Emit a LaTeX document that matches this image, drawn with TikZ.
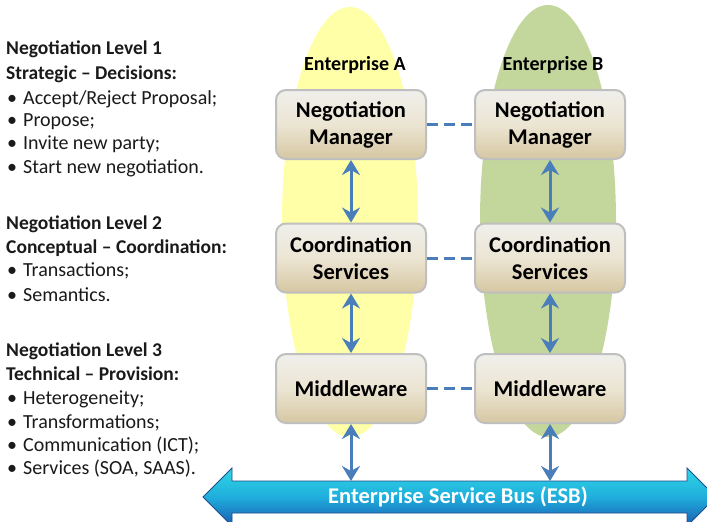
\documentclass[tikz,border=0pt]{standalone}
\usepackage{fontspec}
\setmainfont{Carlito}
\usetikzlibrary{arrows.meta,calc}
\definecolor{ylw}{HTML}{FFFFA8}
\definecolor{grn}{HTML}{C3D69B}
\definecolor{boxtop}{HTML}{EFEFEB}
\definecolor{boxmid}{HTML}{ECE5D3}
\definecolor{boxbot}{HTML}{D6C7A2}
\definecolor{boxline}{HTML}{BFBFBF}
\definecolor{conn}{HTML}{4A7EBB}
\definecolor{esbtop}{HTML}{2FD6E6}
\definecolor{esbmid}{HTML}{1FAEDC}
\definecolor{esbbot}{HTML}{1A5CB2}
\definecolor{esbline}{HTML}{1F4E8C}
\definecolor{txt}{HTML}{1A1A1A}
\tikzset{
  compbox/.style={draw=boxline, line width=2pt, rounded corners=10pt,
    top color=boxtop, bottom color=boxbot, middle color=boxmid,
    minimum width=150pt, minimum height=69pt, align=center,
    font=\fontsize{22.5}{27}\selectfont\bfseries, text=black, inner sep=0pt},
  dashlink/.style={conn, line width=3pt, dash pattern=on 11pt off 6pt},
  varrow/.style={conn, line width=3pt, {Stealth[length=15pt,width=18pt,inset=5pt]}-{Stealth[length=15pt,width=18pt,inset=5pt]}},
  head/.style={anchor=base west, inner sep=0pt, text=txt, font=\fontsize{19.5}{22}\selectfont\bfseries},
  item/.style={anchor=base west, inner sep=0pt, text=txt, font=\fontsize{20}{22}\selectfont},
  entlabel/.style={inner sep=0pt, text=black, font=\fontsize{20}{22}\selectfont\bfseries},
}
\newcommand\bul[1]{\makebox[16pt][l]{\textbullet}#1}
\begin{document}
\begin{tikzpicture}[x=1pt,y=-1pt]
\useasboundingbox (0,0) rectangle (707,522);
\clip (0,0) rectangle (707,522);
\fill[white] (0,0) rectangle (707,522);
% enterprise ellipses
\fill[ylw] (350,222) ellipse [x radius=68, y radius=215];
\fill[grn] (548,221) ellipse [x radius=68, y radius=216];
\node[entlabel] (entA) at (355,65) {Enterprise A};
\node[entlabel] (entB) at (553,65) {Enterprise B};
% boxes
\node[compbox] (nmA) at (351,124.5) {Negotiation\\Manager};
\node[compbox] (nmB) at (550,124.5) {Negotiation\\Manager};
\node[compbox] (coA) at (351,258) {Coordination\\Services};
\node[compbox] (coB) at (550,258) {Coordination\\Services};
\node[compbox] (mwA) at (351,388.5) {Middleware};
\node[compbox] (mwB) at (550,388.5) {Middleware};
% dashed links
\draw[dashlink] (nmA) -- (nmB);
\draw[dashlink] (coA) -- (coB);
\draw[dashlink] (mwA) -- (mwB);
% ESB arrow
\draw[esbline, line width=0.8pt, top color=esbtop, bottom color=esbbot, middle color=esbmid]
  (203,497) -- (232,468) -- (232,481) -- (687,481) -- (687,468) -- (716,497)
  -- (687,526) -- (687,513) -- (232,513) -- (232,526) -- cycle;
\node[inner sep=0pt, text=white, font=\fontsize{22.5}{26}\selectfont\bfseries] (esb) at (458,497) {Enterprise Service Bus (ESB)};
\coordinate (busA) at (351,481);
\coordinate (busB) at (550,481);
% vertical arrows
\draw[varrow] (nmA) -- (coA);
\draw[varrow] (nmB) -- (coB);
\draw[varrow] (coA) -- (mwA);
\draw[varrow] (coB) -- (mwB);
\draw[varrow] (mwA.south) -- (busA);
\draw[varrow] (mwB.south) -- (busB);
% left text
\node[head] (h1a) at (6,54) {Negotiation Level 1};
\node[head] (h1b) at (6,79) {Strategic -- Decisions:};
\node[item] (i1a) at (7,104) {\bul{Accept/Reject Proposal;}};
\node[item] (i1b) at (7,126) {\bul{Propose;}};
\node[item] (i1c) at (7,149) {\bul{Invite new party;}};
\node[item] (i1d) at (7,173) {\bul{Start new negotiation.}};
\node[head] (h2a) at (6,229) {Negotiation Level 2};
\node[head] (h2b) at (6,253) {Conceptual -- Coordination:};
\node[item] (i2a) at (7,276) {\bul{Transactions;}};
\node[item] (i2b) at (7,301) {\bul{Semantics.}};
\node[head] (h3a) at (6,356) {Negotiation Level 3};
\node[head] (h3b) at (6,380) {Technical -- Provision:};
\node[item] (i3a) at (7,404) {\bul{Heterogeneity;}};
\node[item] (i3b) at (7,428) {\bul{Transformations;}};
\node[item] (i3c) at (7,451) {\bul{Communication (ICT);}};
\node[item] (i3d) at (7,474) {\bul{Services (SOA, SAAS).}};
\end{tikzpicture}
\end{document}
